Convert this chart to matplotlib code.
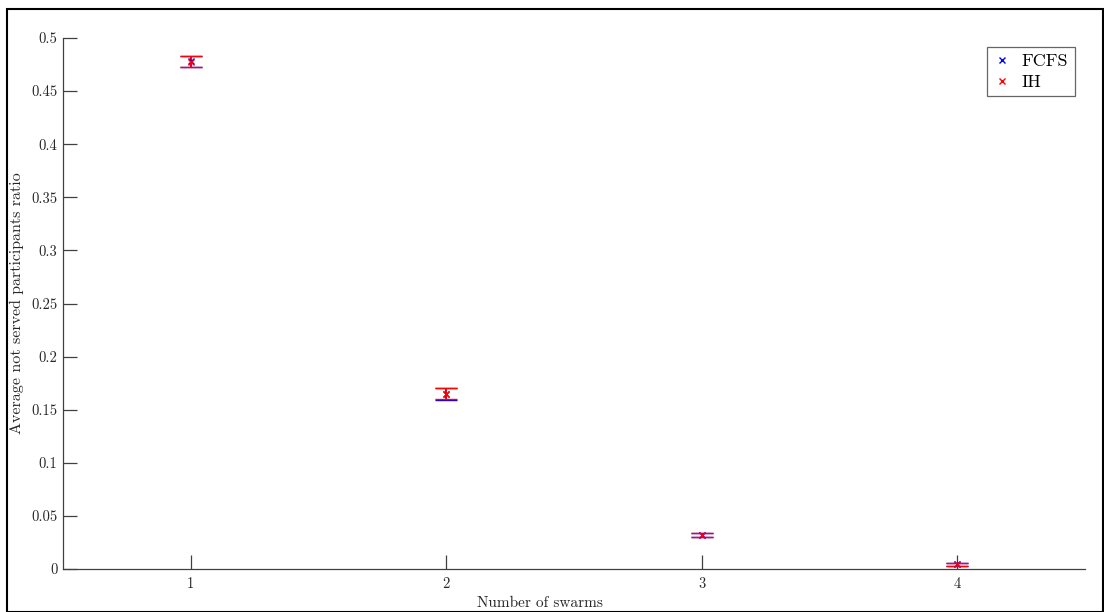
import matplotlib
matplotlib.use("Agg")
import matplotlib.pyplot as plt
from matplotlib.patches import Rectangle

# Average not-served ratio per swarm count, with half-width of the error bars
swarms = [1, 2, 3, 4]
fcfs_mean = [0.478, 0.1645, 0.032, 0.0045]
fcfs_err = [0.0052, 0.0055, 0.0022, 0.0015]
ih_mean = [0.4775, 0.1650, 0.0318, 0.0043]
ih_err = [0.0052, 0.0050, 0.0020, 0.0014]
yticks = [0, 0.05, 0.1, 0.15, 0.2, 0.25, 0.3, 0.35, 0.4, 0.45, 0.5]

plt.rcParams['font.family'] = 'serif'
plt.rcParams['font.serif'] = ['cmr10', 'DejaVu Serif']
plt.rcParams['axes.formatter.use_mathtext'] = True

fig = plt.figure(figsize=(11.04, 6.12), dpi=100)
ax = fig.add_axes([63 / 1104, 1 - 569 / 612, 1022 / 1104, 531 / 612])

ax.errorbar(swarms, fcfs_mean, yerr=fcfs_err, fmt='x', color='blue', ms=5,
            mew=1.0, elinewidth=1.2, capsize=8, capthick=1.6, label='FCFS')
ax.errorbar(swarms, ih_mean, yerr=ih_err, fmt='x', color='red', ms=5,
            mew=1.0, elinewidth=1.2, capsize=8, capthick=1.6, label='IH')

ax.set_xlim(0.5, 4.5)
ax.set_ylim(0, 0.5)
ax.set_xticks(swarms)
ax.set_xticklabels([str(s) for s in swarms])
ax.set_yticks(yticks)
ax.set_yticklabels(['0' if v == 0 else f'{v:g}' for v in yticks])

for side in ['top', 'right']:
    ax.spines[side].set_visible(False)
for side in ['left', 'bottom']:
    ax.spines[side].set_color('#404040')
    ax.spines[side].set_linewidth(0.9)
ax.tick_params(direction='in', length=10, width=0.9, color='#404040',
               labelsize=10.5, labelcolor='#262626')
ax.tick_params(axis='x', pad=6)
ax.tick_params(axis='y', pad=4)

ax.set_xlabel('Number of swarms', fontsize=11, color='#262626')
ax.set_ylabel('Average not served participants ratio', fontsize=11.5, color='#262626')
ax.xaxis.set_label_coords(0.467, -0.052)
ax.yaxis.set_label_coords(-0.038, 0.5)

handles, labels = ax.get_legend_handles_labels()
handles = [h[0] for h in handles]
leg = ax.legend(handles, labels, loc='upper right', bbox_to_anchor=(0.990, 0.983),
                borderaxespad=0, fontsize=13, frameon=True, fancybox=False,
                handlelength=1.0, handletextpad=0.6, borderpad=0.35,
                labelspacing=0.3)
leg.get_frame().set_edgecolor('#404040')
leg.get_frame().set_linewidth(0.9)

# frame around the whole figure
fig.patches.append(Rectangle((7 / 1104, 0.0), 1 - 7 / 1104 - 0.0005, 1 - 9 / 612,
                             transform=fig.transFigure, fill=False,
                             edgecolor='black', linewidth=1.5))

fig.savefig('out.png', dpi=100)
